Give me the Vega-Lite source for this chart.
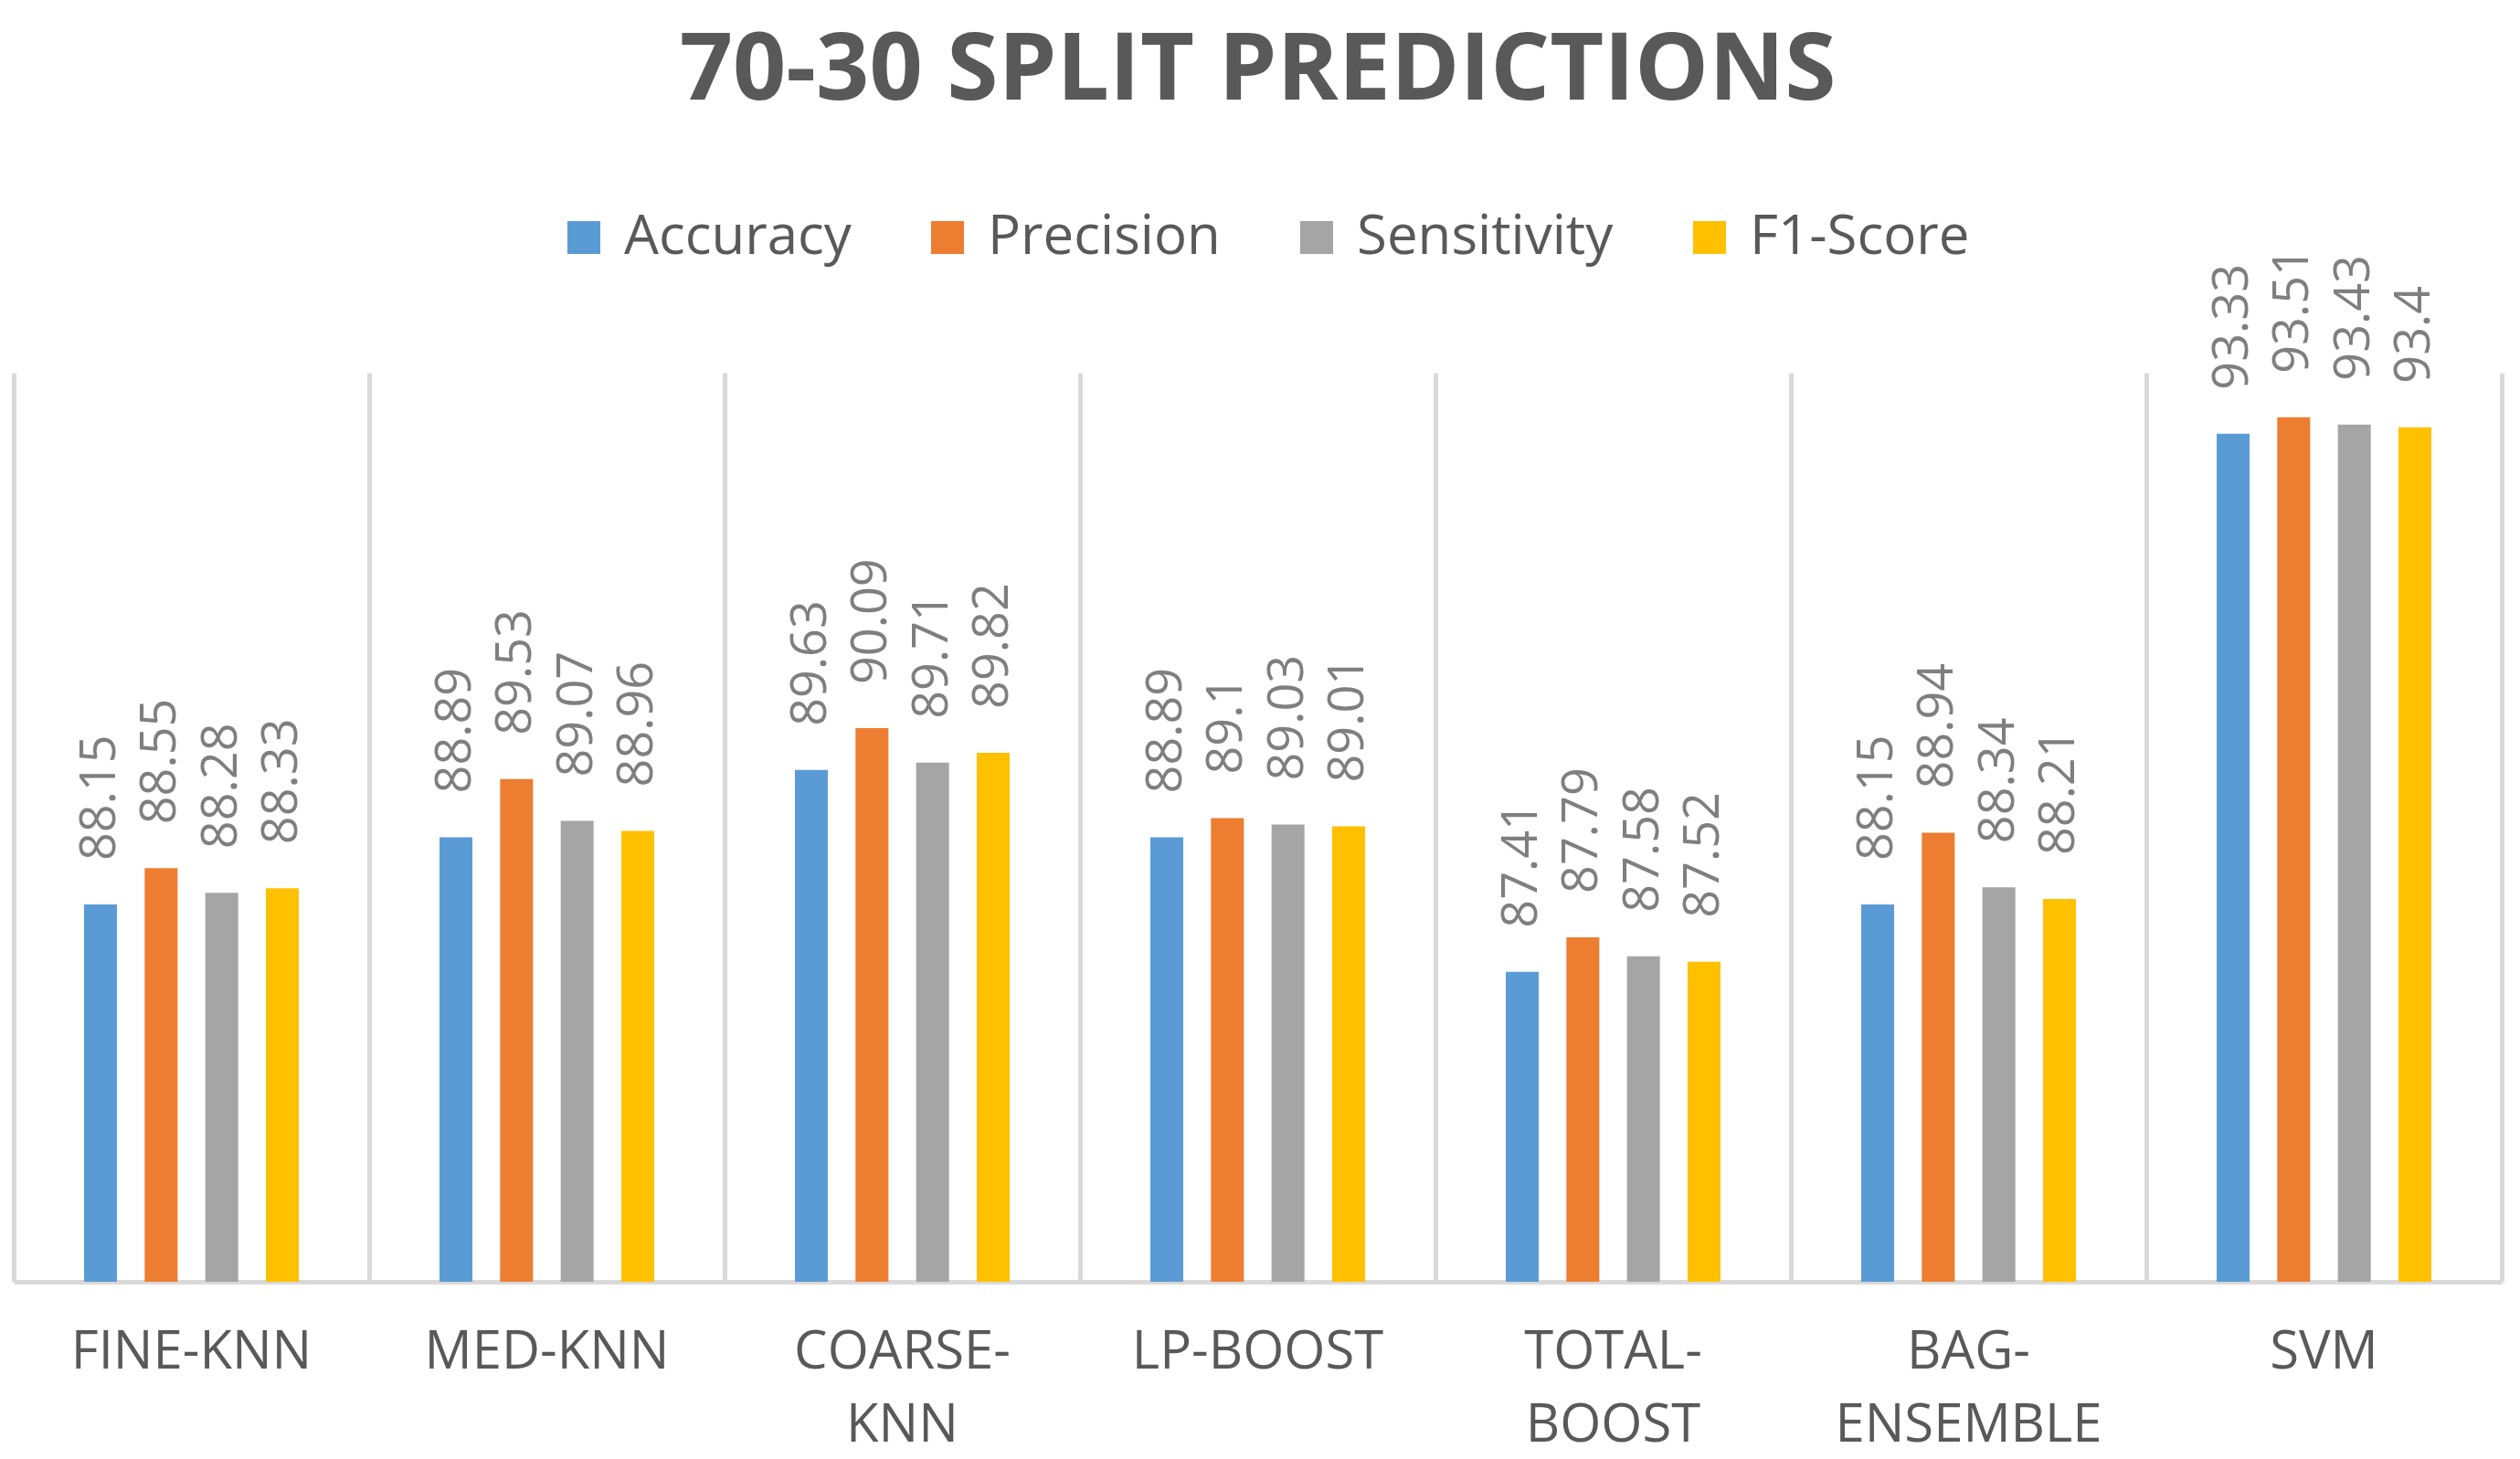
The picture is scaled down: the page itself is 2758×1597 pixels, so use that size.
{
  "$schema": "https://vega.github.io/schema/vega-lite/v6.json",
  "autosize": {"type": "none"},
  "width": 2723,
  "height": 995,
  "padding": {"left": 15, "top": 408, "right": 20, "bottom": 194},
  "background": "white",
  "title": {
    "text": "70-30 SPLIT PREDICTIONS",
    "font": "Open Sans",
    "fontSize": 102,
    "fontWeight": "bold",
    "color": "#595959",
    "anchor": "middle",
    "offset": 100
  },
  "config": {
    "view": {"stroke": null},
    "font": "Open Sans"
  },
  "data": {
    "values": [
      {"model": "FINE-KNN", "metric": "Accuracy", "value": 88.15},
      {"model": "FINE-KNN", "metric": "Precision", "value": 88.55},
      {"model": "FINE-KNN", "metric": "Sensitivity", "value": 88.28},
      {"model": "FINE-KNN", "metric": "F1-Score", "value": 88.33},
      {"model": "MED-KNN", "metric": "Accuracy", "value": 88.89},
      {"model": "MED-KNN", "metric": "Precision", "value": 89.53},
      {"model": "MED-KNN", "metric": "Sensitivity", "value": 89.07},
      {"model": "MED-KNN", "metric": "F1-Score", "value": 88.96},
      {"model": "COARSE-KNN", "metric": "Accuracy", "value": 89.63},
      {"model": "COARSE-KNN", "metric": "Precision", "value": 90.09},
      {"model": "COARSE-KNN", "metric": "Sensitivity", "value": 89.71},
      {"model": "COARSE-KNN", "metric": "F1-Score", "value": 89.82},
      {"model": "LP-BOOST", "metric": "Accuracy", "value": 88.89},
      {"model": "LP-BOOST", "metric": "Precision", "value": 89.1},
      {"model": "LP-BOOST", "metric": "Sensitivity", "value": 89.03},
      {"model": "LP-BOOST", "metric": "F1-Score", "value": 89.01},
      {"model": "TOTAL-BOOST", "metric": "Accuracy", "value": 87.41},
      {"model": "TOTAL-BOOST", "metric": "Precision", "value": 87.79},
      {"model": "TOTAL-BOOST", "metric": "Sensitivity", "value": 87.58},
      {"model": "TOTAL-BOOST", "metric": "F1-Score", "value": 87.52},
      {"model": "BAG-ENSEMBLE", "metric": "Accuracy", "value": 88.15},
      {"model": "BAG-ENSEMBLE", "metric": "Precision", "value": 88.94},
      {"model": "BAG-ENSEMBLE", "metric": "Sensitivity", "value": 88.34},
      {"model": "BAG-ENSEMBLE", "metric": "F1-Score", "value": 88.21},
      {"model": "SVM", "metric": "Accuracy", "value": 93.33},
      {"model": "SVM", "metric": "Precision", "value": 93.51},
      {"model": "SVM", "metric": "Sensitivity", "value": 93.43},
      {"model": "SVM", "metric": "F1-Score", "value": 93.4}
    ]
  },
  "encoding": {
    "x": {
      "field": "model",
      "type": "nominal",
      "sort": null,
      "scale": {"paddingInner": 0, "paddingOuter": 0},
      "axis": {
        "title": null,
        "orient": "bottom",
        "labelAngle": 0,
        "labelFont": "Open Sans",
        "labelFontSize": 58,
        "labelColor": "#595959",
        "labelPadding": 48,
        "labelLineHeight": 80,
        "labelBaseline": "top",
        "labelLimit": 0,
        "labelExpr": "indexof(['COARSE-KNN','TOTAL-BOOST','BAG-ENSEMBLE'], datum.label) >= 0 ? [split(datum.label, '-')[0] + '-', split(datum.label, '-')[1]] : datum.label",
        "ticks": false,
        "domain": true,
        "domainColor": "#d9d9d9",
        "domainWidth": 5,
        "grid": true,
        "gridColor": "#d9d9d9",
        "gridWidth": 5,
        "bandPosition": 0,
        "zindex": 0
      }
    },
    "xOffset": {
      "field": "metric",
      "type": "nominal",
      "sort": ["Accuracy", "Precision", "Sensitivity", "F1-Score"],
      "scale": {"range": [77, 312], "paddingInner": 0.457, "paddingOuter": 0}
    },
    "y": {
      "field": "value",
      "type": "quantitative",
      "scale": {"domain": [84, 94], "zero": false, "nice": false},
      "axis": {
        "orient": "right",
        "title": null,
        "labels": false,
        "ticks": false,
        "grid": false,
        "domain": true,
        "domainColor": "#d9d9d9",
        "domainWidth": 5
      }
    }
  },
  "layer": [
    {
      "mark": {"type": "bar", "clip": true},
      "encoding": {
        "y2": {"datum": 84},
        "color": {
          "field": "metric",
          "type": "nominal",
          "sort": ["Accuracy", "Precision", "Sensitivity", "F1-Score"],
          "scale": {
            "domain": ["Accuracy", "Precision", "Sensitivity", "F1-Score"],
            "range": ["#5B9BD5", "#ED7D31", "#A5A5A5", "#FFC000"]
          },
          "legend": {
            "title": null,
            "orient": "none",
            "direction": "horizontal",
            "legendX": 594,
            "legendY": -178,
            "symbolType": "square",
            "symbolSize": 1296,
            "symbolStrokeWidth": 0,
            "labelFont": "Open Sans",
            "labelFontSize": 60,
            "labelColor": "#595959",
            "labelOffset": 14,
            "labelLimit": 0,
            "columnPadding": 75,
            "padding": 0
          }
        }
      }
    },
    {
      "mark": {
        "type": "text",
        "angle": 270,
        "align": "left",
        "baseline": "middle",
        "dx": 48,
        "font": "Open Sans",
        "fontSize": 54,
        "color": "#7f7f7f"
      },
      "encoding": {
        "text": {"field": "value", "type": "quantitative"}
      }
    }
  ]
}
